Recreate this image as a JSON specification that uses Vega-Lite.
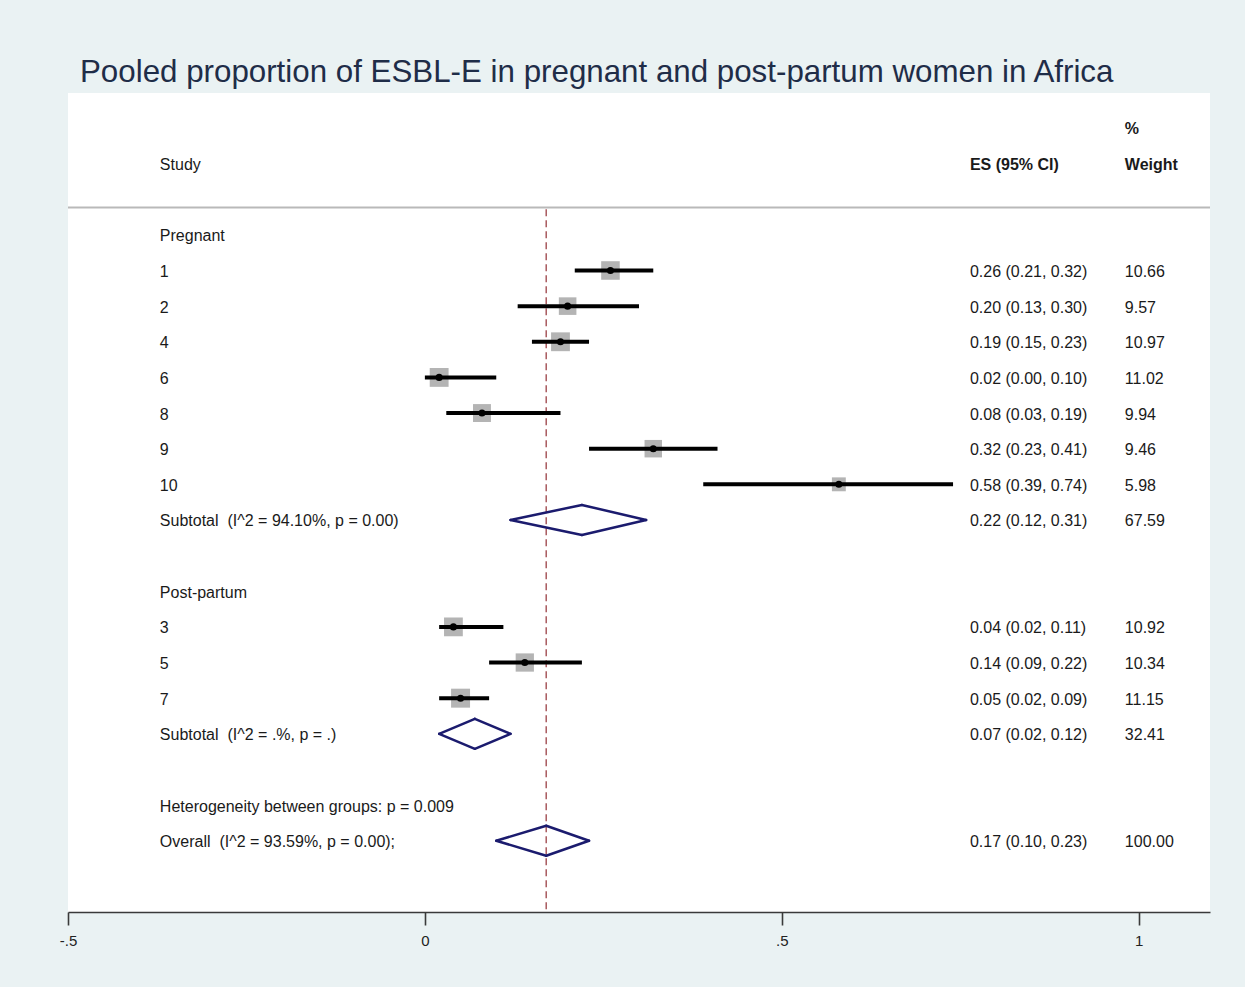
{
  "$schema": "https://vega.github.io/schema/vega-lite/v6.json",
  "autosize": {"type": "none"},
  "width": 1142,
  "height": 819,
  "padding": {"left": 68, "top": 93, "right": 35, "bottom": 75},
  "background": "#eaf2f3",
  "view": {"fill": "white", "stroke": null},
  "config": {"font": "Liberation Sans"},
  "title": {
    "text": "Pooled proportion of ESBL-E in pregnant and post-partum women in Africa",
    "anchor": "start",
    "frame": "group",
    "dx": 12,
    "offset": 5,
    "fontSize": 31.3,
    "fontWeight": "normal",
    "color": "#1f2d48",
    "font": "Liberation Sans"
  },
  "datasets": {
    "rows": [
      {"row": -2, "kind": "header", "label": "Study"},
      {"row": 0, "kind": "group", "label": "Pregnant"},
      {"row": 1, "kind": "study", "label": "1", "es": 0.26, "lo": 0.21, "hi": 0.32, "weight": 10.66},
      {"row": 2, "kind": "study", "label": "2", "es": 0.20, "lo": 0.13, "hi": 0.30, "weight": 9.57},
      {"row": 3, "kind": "study", "label": "4", "es": 0.19, "lo": 0.15, "hi": 0.23, "weight": 10.97},
      {"row": 4, "kind": "study", "label": "6", "es": 0.02, "lo": 0.00, "hi": 0.10, "weight": 11.02},
      {"row": 5, "kind": "study", "label": "8", "es": 0.08, "lo": 0.03, "hi": 0.19, "weight": 9.94},
      {"row": 6, "kind": "study", "label": "9", "es": 0.32, "lo": 0.23, "hi": 0.41, "weight": 9.46},
      {"row": 7, "kind": "study", "label": "10", "es": 0.58, "lo": 0.39, "hi": 0.74, "weight": 5.98},
      {"row": 8, "kind": "pooled", "label": "Subtotal \u00a0(I^2 = 94.10%, p = 0.00)", "es": 0.22, "lo": 0.12, "hi": 0.31, "weight": 67.59},
      {"row": 10, "kind": "group", "label": "Post-partum"},
      {"row": 11, "kind": "study", "label": "3", "es": 0.04, "lo": 0.02, "hi": 0.11, "weight": 10.92},
      {"row": 12, "kind": "study", "label": "5", "es": 0.14, "lo": 0.09, "hi": 0.22, "weight": 10.34},
      {"row": 13, "kind": "study", "label": "7", "es": 0.05, "lo": 0.02, "hi": 0.09, "weight": 11.15},
      {"row": 14, "kind": "pooled", "label": "Subtotal \u00a0(I^2 = .%, p = .)", "es": 0.07, "lo": 0.02, "hi": 0.12, "weight": 32.41},
      {"row": 16, "kind": "note", "label": "Heterogeneity between groups: p = 0.009"},
      {"row": 17, "kind": "pooled", "label": "Overall \u00a0(I^2 = 93.59%, p = 0.00);", "es": 0.17, "lo": 0.10, "hi": 0.23, "weight": 100.00}
    ],
    "headers": [
      {"row": -3, "col": "weight", "label": "%"},
      {"row": -2, "col": "weight", "label": "Weight"},
      {"row": -2, "col": "es", "label": "ES (95% CI)"}
    ],
    "overall": [{"es": 0.17}]
  },
  "encoding": {
    "x": {
      "type": "quantitative",
      "scale": {"domain": [-0.5, 1.1], "nice": false, "zero": false},
      "axis": {
        "title": null,
        "values": [-0.5, 0, 0.5, 1],
        "labelExpr": "replace(replace(format(datum.value, '~g'), '\u2212', '-'), '0.', '.')",
        "grid": false,
        "domainColor": "#3a3a3a",
        "domainWidth": 1.6,
        "tickColor": "#3a3a3a",
        "tickWidth": 1.6,
        "tickSize": 13,
        "labelFlush": false,
        "labelOverlap": false,
        "labelFont": "Liberation Sans",
        "labelFontSize": 15,
        "labelColor": "#222222",
        "labelPadding": 8
      }
    },
    "y": {
      "type": "quantitative",
      "scale": {"domain": [-3.98, 19.0], "reverse": true, "nice": false, "zero": false},
      "axis": null
    }
  },
  "layer": [
    {
      "data": {"name": "overall"},
      "mark": {"type": "rule", "color": "#a85a5e", "strokeWidth": 1.5, "strokeDash": [7, 4]},
      "encoding": {"x": {"field": "es"}, "y": {"datum": -0.72}, "y2": {"datum": 19.0}}
    },
    {
      "data": {"name": "overall"},
      "mark": {"type": "rule", "color": "#b9b9b9", "strokeWidth": 2},
      "encoding": {"x": {"datum": -0.5}, "x2": {"datum": 1.1}, "y": {"datum": -0.77}}
    },
    {
      "data": {"name": "rows"},
      "transform": [{"filter": "datum.kind === 'study'"}],
      "mark": {"type": "point", "shape": "square", "filled": true, "color": "#b4b4b4", "opacity": 1},
      "encoding": {
        "x": {"field": "es"},
        "y": {"field": "row"},
        "size": {"field": "weight", "type": "quantitative", "scale": {"type": "linear", "domain": [0, 11.15], "range": [0, 360]}, "legend": null}
      }
    },
    {
      "data": {"name": "rows"},
      "transform": [{"filter": "datum.kind === 'study'"}],
      "mark": {"type": "rule", "color": "black", "strokeWidth": 4},
      "encoding": {"x": {"field": "lo"}, "x2": {"field": "hi"}, "y": {"field": "row"}}
    },
    {
      "data": {"name": "rows"},
      "transform": [{"filter": "datum.kind === 'study'"}],
      "mark": {"type": "point", "shape": "circle", "filled": true, "color": "black", "size": 50, "opacity": 1},
      "encoding": {"x": {"field": "es"}, "y": {"field": "row"}}
    },
    {
      "data": {"name": "rows"},
      "transform": [{"filter": "datum.kind === 'pooled'"}],
      "mark": {"type": "rule", "color": "#1b1b6e", "strokeWidth": 2.5, "strokeCap": "round", "y2Offset": -15},
      "encoding": {"x": {"field": "lo"}, "x2": {"field": "es"}, "y": {"field": "row"}, "y2": {"field": "row"}}
    },
    {
      "data": {"name": "rows"},
      "transform": [{"filter": "datum.kind === 'pooled'"}],
      "mark": {"type": "rule", "color": "#1b1b6e", "strokeWidth": 2.5, "strokeCap": "round", "yOffset": -15},
      "encoding": {"x": {"field": "es"}, "x2": {"field": "hi"}, "y": {"field": "row"}, "y2": {"field": "row"}}
    },
    {
      "data": {"name": "rows"},
      "transform": [{"filter": "datum.kind === 'pooled'"}],
      "mark": {"type": "rule", "color": "#1b1b6e", "strokeWidth": 2.5, "strokeCap": "round", "y2Offset": 15},
      "encoding": {"x": {"field": "hi"}, "x2": {"field": "es"}, "y": {"field": "row"}, "y2": {"field": "row"}}
    },
    {
      "data": {"name": "rows"},
      "transform": [{"filter": "datum.kind === 'pooled'"}],
      "mark": {"type": "rule", "color": "#1b1b6e", "strokeWidth": 2.5, "strokeCap": "round", "yOffset": 15},
      "encoding": {"x": {"field": "es"}, "x2": {"field": "lo"}, "y": {"field": "row"}, "y2": {"field": "row"}}
    },
    {
      "data": {"name": "rows"},
      "mark": {"type": "text", "align": "left", "baseline": "middle", "dy": 1.5, "fontSize": 16, "color": "#1a1a1a"},
      "encoding": {"x": {"datum": -0.3713}, "y": {"field": "row"}, "text": {"field": "label"}}
    },
    {
      "data": {"name": "rows"},
      "transform": [
        {"filter": "isValid(datum.es)"},
        {"calculate": "format(datum.es, '.2f') + ' (' + format(datum.lo, '.2f') + ', ' + format(datum.hi, '.2f') + ')'", "as": "ci"}
      ],
      "mark": {"type": "text", "align": "left", "baseline": "middle", "dy": 1.5, "fontSize": 16, "color": "#1a1a1a"},
      "encoding": {"x": {"datum": 0.7636}, "y": {"field": "row"}, "text": {"field": "ci"}}
    },
    {
      "data": {"name": "rows"},
      "transform": [{"filter": "isValid(datum.weight)"}],
      "mark": {"type": "text", "align": "left", "baseline": "middle", "dy": 1.5, "fontSize": 16, "color": "#1a1a1a"},
      "encoding": {"x": {"datum": 0.9807}, "y": {"field": "row"}, "text": {"field": "weight", "format": ".2f"}}
    },
    {
      "data": {"name": "headers"},
      "transform": [{"filter": "datum.col === 'es'"}],
      "mark": {"type": "text", "align": "left", "baseline": "middle", "dy": 1.5, "fontSize": 16, "fontWeight": "bold", "color": "#1a1a1a"},
      "encoding": {"x": {"datum": 0.7636}, "y": {"field": "row"}, "text": {"field": "label"}}
    },
    {
      "data": {"name": "headers"},
      "transform": [{"filter": "datum.col === 'weight'"}],
      "mark": {"type": "text", "align": "left", "baseline": "middle", "dy": 1.5, "fontSize": 16, "fontWeight": "bold", "color": "#1a1a1a"},
      "encoding": {"x": {"datum": 0.9807}, "y": {"field": "row"}, "text": {"field": "label"}}
    }
  ]
}
